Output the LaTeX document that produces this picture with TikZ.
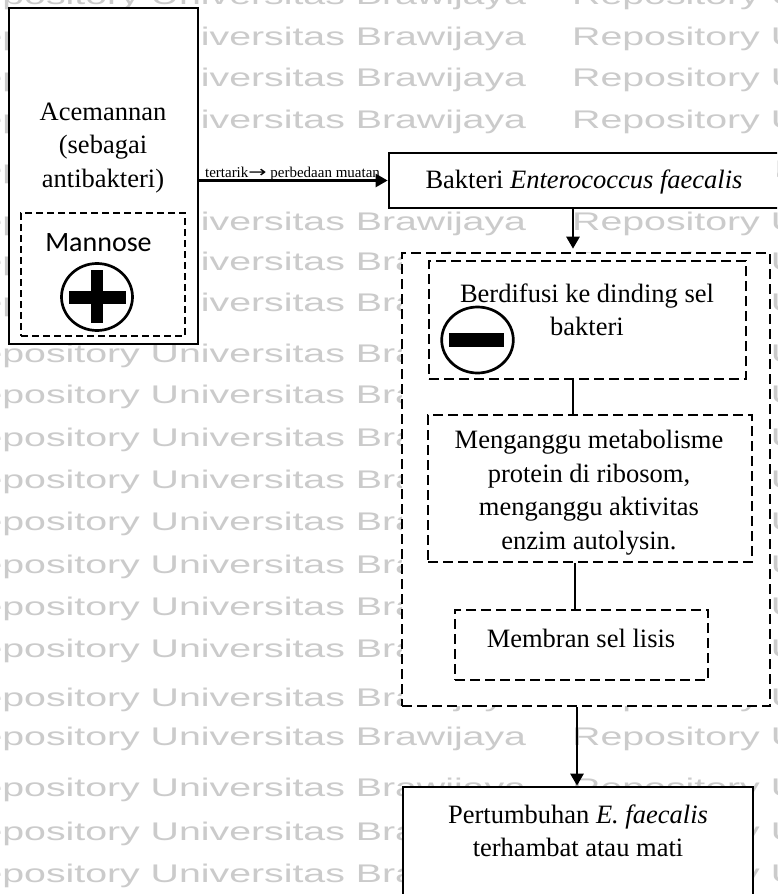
\documentclass[tikz,border=0pt]{standalone}
\usepackage{fontspec}
\usepackage{graphicx}
\setmainfont{Liberation Serif}
\newfontfamily\calfont{Carlito}
\newfontfamily\djvfont{DejaVu Sans}
\newfontfamily\wmfont[FakeStretch=1.54]{Liberation Sans}
\usetikzlibrary{arrows.meta,calc}
\definecolor{wmgray}{RGB}{203,203,203}
\tikzset{
  solidbox/.style={draw=black, line width=2.7pt, fill=white, inner sep=0pt},
  dashbox/.style={draw=black, line width=2.6pt, dash pattern=on 10pt off 5pt, fill=white, inner sep=0pt},
  mandash/.style={draw=black, line width=2.2pt, dash pattern=on 7pt off 4pt, fill=white, inner sep=0pt},
  body/.style={align=center, inner sep=0pt, font=\fontsize{26.5}{33.5}\selectfont},
  conn/.style={line width=2.6pt},
  arr/.style={conn, -{Triangle[length=12pt,width=13pt]}},
  wm/.style={text=wmgray, inner sep=0pt, anchor=base west, font=\wmfont\fontsize{25.5}{25.5}\selectfont},
  sym/.style={line width=2.7pt, fill=white},
}
\begin{document}
\begin{tikzpicture}[x=1pt,y=-1pt]
\useasboundingbox (0,0) rectangle (777,894);
\clip (0,0) rectangle (777,894);
\fill[white] (0,0) rectangle (777,894);
% watermark
\foreach \yy [count=\k] in {5,45,86,128,178,230,270,311,362,403,446,488,530,573,615,657,706,745,796,840,882} {
  \node[wm] (wl\k) at (-48,\yy) {Repository Universitas Brawijaya};
  \node[wm] (wr\k) at (572,\yy) {Repository Universitas Brawijaya};
}
% label background
\node[fill=white, inner sep=0pt, minimum width=189pt, minimum height=72pt] (lblbg) at (294.5,174) {};
% boxes
\node[solidbox, minimum width=189pt, minimum height=336pt] (ace) at (103.5,176) {};
\node[mandash, minimum width=164pt, minimum height=123pt] (man) at (103,274.5) {};
\node[solidbox, minimum width=411pt, minimum height=55pt] (bak) at (594.5,180.5) {};
\node[dashbox, minimum width=368pt, minimum height=453pt] (mech) at (586,479.5) {};
\node[dashbox, minimum width=317pt, minimum height=118pt] (dif) at (587.5,320) {};
\node[dashbox, minimum width=324pt, minimum height=147pt] (met) at (590,488.5) {};
\node[dashbox, minimum width=253pt, minimum height=70pt] (lys) at (581.5,645) {};
\node[solidbox, minimum width=350pt, minimum height=123pt] (res) at (578,848.5) {};
% texts
\node[body] (acetxt) at (103,148) {Acemannan\\(sebagai\\antibakteri)};
\node[inner sep=0pt, font=\calfont\fontsize{28}{28}\selectfont] (mantxt) at (98.5,243) {Mannose};
\node[body] (baktxt) at (584,182) {Bakteri \textit{Enterococcus faecalis}};
\node[body] (diftxt) at (587,310) {Berdifusi ke dinding sel\\bakteri};
\node[body] (mettxt) at (589,492.5) {Menganggu metabolisme\\protein di ribosom,\\menganggu aktivitas\\enzim autolysin.};
\node[body] (lystxt) at (581,638) {Membran sel lisis};
\node[body] (restxt) at (578,831) {Pertumbuhan \textit{E. faecalis}\\terhambat atau mati};
\node[inner sep=0pt, anchor=base, font=\fontsize{15}{15}\selectfont] (lbl) at (292.5,177) {tertarik{\djvfont\scalebox{1.45}[1.05]{→}} perbedaan muatan};
% symbols
\draw[sym] (97,297) ellipse [x radius=35.5, y radius=33.5];
\fill (69,291) rectangle (126,304);
\fill (91,270) rectangle (103,323);
\draw[sym] (477.5,340) ellipse [x radius=35.8, y radius=33];
\fill (449,333) rectangle (504,347);
% connectors
\coordinate (xa) at (573,0);
\coordinate (xb) at (575,0);
\coordinate (xc) at (577,0);
\draw[arr] (ace.east |- bak.west) -- (bak.west);
\draw[arr, shorten >=3pt] (bak.south -| xa) -- (mech.north -| xa);
\draw[conn] (dif.south -| xa) -- (met.north -| xa);
\draw[conn] (met.south -| xb) -- (lys.north -| xb);
\draw[arr] (mech.south -| xc) -- (res.north -| xc);
\end{tikzpicture}
\end{document}
